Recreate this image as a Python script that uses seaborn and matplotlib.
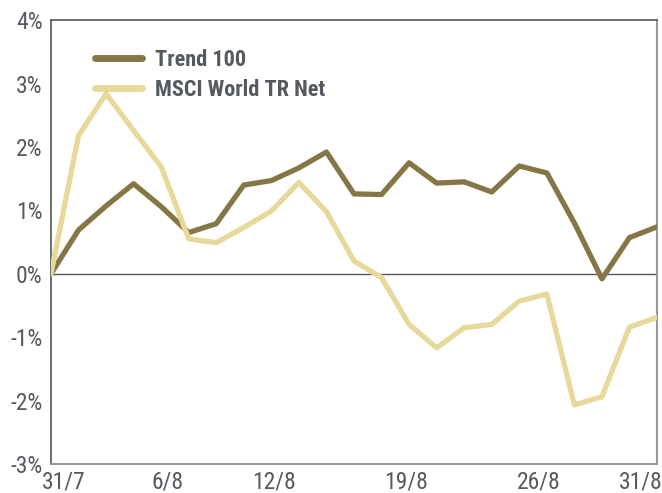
import numpy as np
import pandas as pd
import seaborn as sns
import matplotlib.pyplot as plt
from matplotlib import font_manager
from matplotlib.ticker import FuncFormatter

# daily cumulative return, %, one point per trading day 31/7 .. 31/8
trend100 = [0.00, 0.69, 1.07, 1.42, 1.06, 0.65, 0.79, 1.40, 1.47, 1.67, 1.92, 1.26,
            1.25, 1.75, 1.43, 1.45, 1.29, 1.70, 1.59, 0.80, -0.08, 0.57, 0.74]
msci_world = [0.00, 2.18, 2.84, 2.26, 1.69, 0.55, 0.49, 0.73, 0.99, 1.44, 0.98, 0.20,
              -0.06, -0.80, -1.17, -0.85, -0.80, -0.43, -0.32, -2.07, -1.94, -0.84, -0.69]
date_labels = ["31/7", "6/8", "12/8", "19/8", "26/8", "31/8"]
date_pos = [0.45, 4.25, 8.1, 12.9, 17.7, 21.4]

series_names = ["Trend 100", "MSCI World TR Net"]
colors = {"Trend 100": "#857745", "MSCI World TR Net": "#e6d99b"}

df = pd.DataFrame({
    "day": list(range(len(trend100))) * 2,
    "ret": trend100 + msci_world,
    "series": [series_names[0]] * len(trend100) + [series_names[1]] * len(msci_world),
})

sns.set_style("white")
names = {f.name for f in font_manager.fontManager.ttflist}
fams = [n for n in ["Liberation Sans Narrow", "Roboto Condensed", "DejaVu Sans"] if n in names]
plt.rcParams["font.family"] = fams + ["DejaVu Sans"]
plt.rcParams["font.stretch"] = "condensed"
text_col = "#555a60"

fig = plt.figure(figsize=(6.62, 4.93), dpi=100)
ax = fig.add_axes([0.077, 0.059, 0.9155, 0.900])

ax.axhline(0, color="#555555", lw=1.0, zorder=1)
sns.lineplot(data=df, x="day", y="ret", hue="series", palette=colors,
             hue_order=series_names, lw=3.8, ax=ax, zorder=3)

ax.set_xlim(0, 22)
ax.set_ylim(-3, 4)
ax.set_yticks(range(-3, 5))
ax.yaxis.set_major_formatter(FuncFormatter(lambda v, p: f"{int(v)}%"))
ax.set_xticks(date_pos)
ax.set_xticklabels(date_labels)
ax.tick_params(axis="y", direction="in", length=11, width=1, color="#666666",
               labelsize=17, labelcolor=text_col, pad=6)
ax.tick_params(axis="x", length=0, labelsize=17, labelcolor=text_col, pad=5)
ax.set_xlabel("")
ax.set_ylabel("")

for side in ["left", "top"]:
    ax.spines[side].set_color("#555555")
    ax.spines[side].set_linewidth(1.2)
for side in ["right", "bottom"]:
    ax.spines[side].set_color("#999999")
    ax.spines[side].set_linewidth(1.5)

leg = ax.legend(loc="upper left", bbox_to_anchor=(0.04, 0.98), frameon=False,
                handlelength=2.1, handletextpad=0.6, labelspacing=0.35,
                prop={"size": 16, "weight": "bold"})
for t in leg.get_texts():
    t.set_color(text_col)
for ln in leg.get_lines():
    ln.set_linewidth(5)

fig.savefig("out.png", dpi=100)
